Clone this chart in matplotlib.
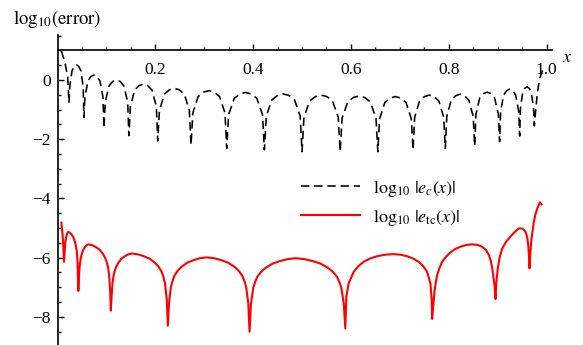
import numpy as np
import matplotlib
matplotlib.use('Agg')
import matplotlib.pyplot as plt

# log10 |e_c(x)|  (dashed black), one arc per line
bx = [0.008, 0.0155, 0.0208, 0.0235,
      0.0250, 0.0296, 0.0342, 0.0388, 0.0433, 0.0479, 0.0525, 0.054,
      0.0561, 0.0622, 0.0684, 0.0745, 0.0807, 0.0868, 0.0930, 0.095,
      0.0976, 0.1052, 0.1129, 0.1205, 0.1282, 0.1358, 0.1435, 0.146,
      0.1490, 0.1578, 0.1667, 0.1755, 0.1844, 0.1932, 0.2021, 0.205,
      0.2084, 0.2186, 0.2288, 0.2390, 0.2492, 0.2594, 0.2696, 0.273,
      0.2767, 0.2876, 0.2986, 0.3095, 0.3205, 0.3314, 0.3424, 0.346,
      0.3499, 0.3614, 0.3730, 0.3845, 0.3961, 0.4076, 0.4192, 0.423,
      0.4269, 0.4384, 0.4500, 0.4615, 0.4731, 0.4846, 0.4962, 0.500,
      0.5039, 0.5156, 0.5273, 0.5390, 0.5507, 0.5624, 0.5741, 0.578,
      0.5819, 0.5934, 0.6050, 0.6165, 0.6281, 0.6396, 0.6512, 0.655,
      0.6586, 0.6694, 0.6802, 0.6910, 0.7018, 0.7126, 0.7234, 0.727,
      0.7303, 0.7402, 0.7501, 0.7600, 0.7699, 0.7798, 0.7897, 0.793,
      0.7960, 0.8050, 0.8140, 0.8230, 0.8320, 0.8410, 0.8500, 0.853,
      0.8556, 0.8632, 0.8709, 0.8785, 0.8862, 0.8938, 0.9015, 0.904,
      0.9061, 0.9122, 0.9184, 0.9245, 0.9307, 0.9368, 0.9430, 0.945,
      0.9465, 0.9510, 0.9555, 0.9600, 0.9645, 0.9690, 0.9735, 0.975,
      0.9775, 0.981, 0.986, 0.990, 0.995]
by = [0.98, 0.56, 0.11, -0.77,
      -0.24, 0.31, 0.46, 0.51, 0.46, 0.31, -0.24, -1.26,
      -0.58, -0.03, 0.12, 0.17, 0.12, -0.03, -0.58, -1.63,
      -0.75, -0.20, -0.05, 0.00, -0.05, -0.20, -0.75, -1.88,
      -0.89, -0.34, -0.19, -0.14, -0.19, -0.34, -0.89, -2.06,
      -1.03, -0.48, -0.33, -0.28, -0.33, -0.48, -1.03, -2.20,
      -1.11, -0.56, -0.41, -0.36, -0.41, -0.56, -1.11, -2.31,
      -1.17, -0.62, -0.47, -0.42, -0.47, -0.62, -1.17, -2.36,
      -1.22, -0.67, -0.52, -0.47, -0.52, -0.67, -1.22, -2.42,
      -1.26, -0.71, -0.56, -0.51, -0.56, -0.71, -1.26, -2.42,
      -1.29, -0.74, -0.59, -0.54, -0.59, -0.74, -1.29, -2.42,
      -1.31, -0.76, -0.61, -0.56, -0.61, -0.76, -1.31, -2.36,
      -1.26, -0.71, -0.56, -0.51, -0.56, -0.71, -1.26, -2.31,
      -1.23, -0.68, -0.53, -0.48, -0.53, -0.68, -1.23, -2.23,
      -1.16, -0.61, -0.46, -0.41, -0.46, -0.61, -1.16, -2.08,
      -1.06, -0.51, -0.36, -0.31, -0.36, -0.51, -1.06, -1.89,
      -0.98, -0.43, -0.28, -0.23, -0.28, -0.43, -0.98, -1.55,
      -1.07, -0.45, 0.05, 0.25, 0.42]

# log10 |e_tc(x)|  (solid red), one arc per line
rx = [0.008, 0.0113, 0.0133,
      0.01434, 0.01478, 0.01548, 0.01635, 0.01765, 0.01896, 0.02043, 0.022,
      0.02571, 0.02921, 0.0323, 0.03539, 0.03745, 0.0391, 0.04013, 0.04095, 0.04198, 0.0426,
      0.04423, 0.04505, 0.04607, 0.0477, 0.04974, 0.0528, 0.05586, 0.05933, 0.063,
      0.07128, 0.0791, 0.086, 0.0929, 0.0975, 0.10118, 0.10348, 0.10532, 0.10762, 0.109,
      0.11029, 0.11244, 0.11416, 0.11631, 0.11975, 0.12405, 0.1305, 0.13695, 0.14426, 0.152,
      0.16525, 0.17776, 0.1888, 0.19984, 0.2072, 0.21309, 0.21677, 0.21971, 0.22339, 0.2256,
      0.22798, 0.23195, 0.23513, 0.2391, 0.24545, 0.25339, 0.2653, 0.27721, 0.29071, 0.305,
      0.32079, 0.3357, 0.34885, 0.3620, 0.37077, 0.37779, 0.38218, 0.38568, 0.39007, 0.3927,
      0.39553, 0.40024, 0.40402, 0.40873, 0.41628, 0.42571, 0.4400, 0.4540, 0.47003, 0.487,
      0.50527, 0.52253, 0.53775, 0.55298, 0.56313, 0.57125, 0.57632, 0.58038, 0.58546, 0.5885,
      0.5906, 0.5953, 0.6056, 0.615, 0.626, 0.639, 0.6534, 0.670, 0.6874,
      0.701, 0.7148, 0.727, 0.7386, 0.748, 0.7558, 0.7625, 0.7652, 0.766,
      0.7685, 0.7708, 0.7735, 0.7762, 0.781, 0.7865, 0.795, 0.8035, 0.813, 0.824, 0.836, 0.848,
      0.859, 0.868, 0.876, 0.882, 0.886, 0.889, 0.8935, 0.8956,
      0.8972, 0.9003, 0.904, 0.9093, 0.917, 0.926, 0.935, 0.9433,
      0.951, 0.957, 0.9605, 0.9625, 0.964, 0.9652,
      0.967, 0.9693, 0.974, 0.9775, 0.981, 0.9862, 0.9898]
ry = [-4.82, -5.41, -6.14,
      -5.93, -5.75, -5.59, -5.45, -5.31, -5.23, -5.16, -5.13,
      -5.16, -5.23, -5.31, -5.45, -5.59, -5.75, -5.93, -6.13, -6.68, -7.12,
      -6.55, -6.35, -6.17, -6.01, -5.87, -5.73, -5.65, -5.58, -5.55,
      -5.58, -5.65, -5.73, -5.87, -6.01, -6.17, -6.35, -6.55, -7.10, -7.79,
      -7.41, -6.86, -6.66, -6.48, -6.32, -6.18, -6.04, -5.96, -5.89, -5.86,
      -5.89, -5.96, -6.04, -6.18, -6.32, -6.48, -6.66, -6.86, -7.41, -8.30,
      -7.54, -6.99, -6.79, -6.61, -6.45, -6.31, -6.17, -6.09, -6.02, -5.99,
      -6.02, -6.09, -6.17, -6.31, -6.45, -6.61, -6.79, -6.99, -7.54, -8.50,
      -7.57, -7.02, -6.82, -6.64, -6.48, -6.34, -6.20, -6.12, -6.05, -6.02,
      -6.05, -6.12, -6.20, -6.34, -6.48, -6.64, -6.82, -7.02, -7.57, -8.39,
      -7.32, -6.87, -6.48, -6.29, -6.14, -6.03, -5.95, -5.90, -5.88,
      -5.90, -5.95, -6.03, -6.14, -6.29, -6.48, -6.87, -7.43, -8.07,
      -7.60, -7.15, -6.83, -6.59, -6.35, -6.14, -5.96, -5.82, -5.71, -5.63, -5.57, -5.55,
      -5.57, -5.63, -5.74, -5.91, -6.11, -6.36, -6.93, -7.40,
      -6.85, -6.36, -6.00, -5.69, -5.47, -5.29, -5.13, -5.01,
      -5.02, -5.12, -5.32, -5.57, -5.95, -6.36,
      -5.80, -5.35, -4.79, -4.52, -4.34, -4.13, -4.20]

xmajor = [0.2, 0.4, 0.6, 0.8, 1.0]
xlabels = ['0.2', '0.4', '0.6', '0.8', '1.0']
xminor = [0.05, 0.1, 0.15, 0.25, 0.3, 0.35, 0.45, 0.5, 0.55, 0.65, 0.7, 0.75,
          0.85, 0.9, 0.95]
ymajor = [0, -2, -4, -6, -8]
ylabels = ['0', '\u22122', '\u22124', '\u22126', '\u22128']
yminor = [1.5, 1.0, 0.5, -0.5, -1, -1.5, -2.5, -3, -3.5, -4.5, -5, -5.5,
          -6.5, -7, -7.5, -8.5]

plt.rcParams['font.family'] = ['Liberation Serif', 'DejaVu Serif']
plt.rcParams['mathtext.fontset'] = 'stix'
plt.rcParams['lines.scale_dashes'] = False

fig = plt.figure(figsize=(5.83, 3.45), dpi=100)
ax = fig.add_axes([57.5 / 583, 0, 494.2 / 583, 310 / 345])
ax.patch.set_visible(False)

ax.plot(bx, by, color='black', lw=1.15, linestyle=(0, (6, 3.5)),
        label=r'$\log_{10}\,|e_c(x)|$')
ax.plot(rx, ry, color='red', lw=1.5, solid_joinstyle='round',
        label=r'$\log_{10}\,|e_{\mathrm{tc}}(x)|$')

ax.set_xlim(0, 1.0105)
ax.set_ylim(-8.95, 1.52)

ax.spines['left'].set_position(('data', 0))
ax.spines['bottom'].set_position(('data', 1))
ax.spines['top'].set_visible(False)
ax.spines['right'].set_visible(False)
for s in ['left', 'bottom']:
    ax.spines[s].set_linewidth(1.2)

ax.set_xticks(xmajor)
ax.set_xticklabels(xlabels)
ax.set_xticks(xminor, minor=True)
ax.set_yticks(ymajor)
ax.set_yticklabels(ylabels)
ax.set_yticks(yminor, minor=True)

ax.tick_params(which='both', direction='in', width=1.0, labelsize=12.5)
ax.tick_params(which='major', length=4)
ax.tick_params(which='minor', length=2.5)
ax.tick_params(axis='x', pad=8.5)
ax.tick_params(axis='y', pad=5)

ax.legend(loc='upper left', bbox_to_anchor=(0.492, 0.537), frameon=False,
          fontsize=13, handlelength=3.3, handletextpad=0.69, labelspacing=0.5,
          borderpad=0, borderaxespad=0)

fig.text(13 / 583, 1 - 24 / 345, r'$\mathrm{log}_{10}(\mathrm{error})$',
         fontsize=13.5, ha='left', va='baseline')
fig.text(567 / 583, 1 - 57 / 345, r'$x$', fontsize=13, ha='center', va='center')

fig.savefig('out.png', dpi=100)
